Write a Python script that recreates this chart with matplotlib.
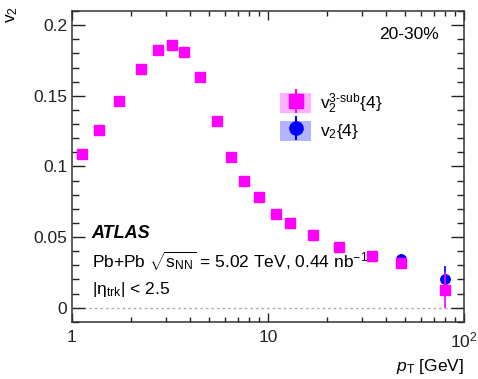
import numpy as np
import matplotlib
matplotlib.use("Agg")
import matplotlib.pyplot as plt
from matplotlib.patches import Patch
from matplotlib.lines import Line2D

plt.rcParams['font.family'] = ['Liberation Sans', 'DejaVu Sans']
plt.rcParams['mathtext.fontset'] = 'custom'
plt.rcParams['mathtext.rm'] = 'Liberation Sans'
plt.rcParams['mathtext.it'] = 'Liberation Sans:italic'
plt.rcParams['mathtext.bf'] = 'Liberation Sans:bold'

# values
pt = [1.12, 1.37, 1.74, 2.24, 2.74, 3.25, 3.74, 4.5, 5.5, 6.5, 7.5, 9.0,
      11.0, 13.0, 17.0, 23.0, 33.8, 47.6, 80.1]
v2_3sub = [0.109, 0.126, 0.146, 0.169, 0.1825, 0.186, 0.181, 0.1636, 0.132,
           0.1066, 0.090, 0.0785, 0.0663, 0.0597, 0.0512, 0.0429, 0.0366,
           0.0316, 0.0125]
err_3sub = [0.0005] * 17 + [0.0015, 0.013]
v2_std = [0.109, 0.126, 0.146, 0.169, 0.1825, 0.186, 0.181, 0.1636, 0.132,
          0.1066, 0.090, 0.0785, 0.0663, 0.0597, 0.0512, 0.0429, 0.0366,
          0.0347, 0.0201]
err_std = [0.0005] * 17 + [0.0015, 0.0095]

xticks = [1, 10, 100]
xticklabels = ['1', '10', '$10^{2}$']
yticks = [0, 0.05, 0.1, 0.15, 0.2]
yticklabels = ['0', '0.05', '0.1', '0.15', '0.2']

magenta = '#ff00ff'
blue = '#0000ff'
fs = 12.5

fig = plt.figure(figsize=(4.78, 3.79), dpi=100)
ax = fig.add_axes([72 / 478, 1 - 322 / 379, 392 / 478, 311 / 379])

ax.axhline(0, color='#b0b0b0', lw=1, ls=(0, (2, 2)), zorder=1)

ax.errorbar(pt, v2_std, yerr=err_std, fmt='o', color=blue, ms=6.8,
            elinewidth=1.2, capsize=0, zorder=3)
ax.errorbar(pt, v2_3sub, yerr=err_3sub, fmt='s', color=magenta, ms=6.5,
            elinewidth=1.2, capsize=0, zorder=4)

ax.set_xscale('log')
ax.set_xlim(1, 100)
ax.set_ylim(-0.0101, 0.21)
ax.set_xticks(xticks)
ax.set_xticklabels(xticklabels)
ax.set_yticks(yticks)
ax.set_yticklabels(yticklabels)
ax.set_yticks(np.arange(-0.01, 0.2101, 0.01), minor=True)

ax.tick_params(which='both', direction='in', top=True, right=True,
               labelsize=fs, colors='#222222')
ax.tick_params(axis='y', which='major', length=9.4, width=1)
ax.tick_params(axis='y', which='minor', length=4.7, width=1)
ax.tick_params(axis='x', which='major', length=6.5, width=1, pad=6)
ax.tick_params(axis='x', which='minor', length=3.6, width=1)
for s in ax.spines.values():
    s.set_linewidth(1.1)
    s.set_color('#333333')

fig.text(12 / 478, 1 - 15 / 379, '$\\mathrm{v}_{2}$', rotation=90,
         fontsize=fs, ha='center', va='center')
fig.text(464 / 478, 1 - 366 / 379, '$p_{\\mathrm{T}}$ [GeV]', fontsize=fs,
         ha='right', va='center')

ax.text(0.936, 0.926, '20-30%', transform=ax.transAxes, fontsize=fs,
        ha='right', va='center')
ax.text(0.05, 0.283, 'ATLAS', transform=ax.transAxes, fontsize=fs + 0.5,
        fontweight='bold', fontstyle='italic', ha='left', va='center')
ax.text(0.05, 0.195,
        'Pb+Pb $\\sqrt{\\mathrm{s}_{\\mathrm{NN}}}$ = 5.02 TeV, 0.44 nb$^{-1}$',
        transform=ax.transAxes, fontsize=fs, ha='left', va='center')
ax.text(0.05, 0.105, '|$\\mathrm{\\eta}_{\\mathrm{trk}}$| < 2.5',
        transform=ax.transAxes, fontsize=fs, ha='left', va='center')

h1 = (Patch(facecolor='#ffb3ff', edgecolor='none'),
      Line2D([], [], marker='|', ms=17, mew=1.5, color=magenta, ls='none'),
      Line2D([], [], marker='s', ms=9.5, color=magenta, ls='none'))
h2 = (Patch(facecolor='#b3b3ff', edgecolor='none'),
      Line2D([], [], marker='|', ms=17, mew=1.5, color=blue, ls='none'),
      Line2D([], [], marker='o', ms=9.5, color=blue, ls='none'))
ax.legend([h1, h2], ['$\\mathrm{v}_{2}^{\\mathrm{3\\text{-}sub}}${4}',
                     '$\\mathrm{v}_{2}${4}'],
          loc='upper left', bbox_to_anchor=(0.531, 0.74), frameon=False,
          fontsize=fs, handlelength=1.8, handleheight=1.4,
          labelspacing=0.25, borderpad=0, borderaxespad=0, handletextpad=0.5)

fig.savefig('out.png', dpi=100)
